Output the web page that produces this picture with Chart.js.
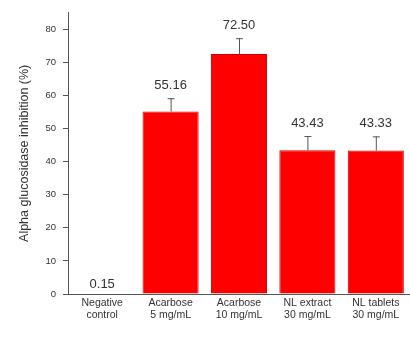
<!DOCTYPE html>
<html><head><meta charset="utf-8">
<script src="https://cdn.jsdelivr.net/npm/chart.js@4/dist/chart.umd.min.js"></script>
<style>html,body{margin:0;padding:0;background:#fff;overflow:hidden}#wrap{width:410px;height:347px;position:relative}</style>
</head><body><div id="wrap"><canvas id="c" width="410" height="347"></canvas></div>
<script>
const categories = [["Negative","control"],["Acarbose","5 mg/mL"],["Acarbose","10 mg/mL"],["NL extract","30 mg/mL"],["NL tablets","30 mg/mL"]];
const values = [0.15, 55.16, 72.50, 43.43, 43.33];
const errors = [0, 4.0, 4.8, 4.3, 4.3];
const yTicks = [0,10,20,30,40,50,60,70,80];
const yTitle = "Alpha glucosidase inhibition (%)";
const FONT = 'Arial, "Liberation Sans", sans-serif';

const errPlugin = {
  id: 'errbars',
  afterDatasetsDraw(chart) {
    const ctx = chart.ctx, y = chart.scales.y;
    const meta = chart.getDatasetMeta(0);
    ctx.save();
    values.forEach((v, i) => {
      const cx = meta.data[i].x;
      const top = y.getPixelForValue(v + errors[i]);
      const base = y.getPixelForValue(v);
      if (errors[i] > 0) {
        ctx.strokeStyle = '#555'; ctx.lineWidth = 1;
        ctx.beginPath();
        ctx.moveTo(cx + 0.5, base); ctx.lineTo(cx + 0.5, top);
        ctx.moveTo(cx - 3, top + 0.5); ctx.lineTo(cx + 4, top + 0.5);
        ctx.stroke();
      }
      ctx.fillStyle = '#333';
      ctx.font = '13px ' + FONT;
      ctx.textAlign = 'center'; ctx.textBaseline = 'alphabetic';
      ctx.fillText(v.toFixed(2), cx, top - (errors[i] > 0 ? 9 : 6));
    });
    ctx.restore();
  }
};

new Chart(document.getElementById('c'), {
  type: 'bar',
  data: { labels: categories, datasets: [{ data: values, backgroundColor: '#ff0000', borderColor: '#d00000', borderWidth: 1, categoryPercentage: 0.82, barPercentage: 1 }] },
  options: {
    responsive: false, animation: false, devicePixelRatio: 1,
    layout: { padding: { top: 12, right: 0, left: 0, bottom: 0 } },
    plugins: { legend: { display: false }, tooltip: { enabled: false } },
    scales: {
      x: {
        grid: { display: false, drawTicks: true, tickLength: 4, color: '#555' },
        border: { color: '#555', width: 1 },
        ticks: { color: '#333', font: { size: 10.5, family: FONT, lineHeight: 1.15 }, maxRotation: 0, padding: -1 },
        afterFit(s) { s.height = 53; }
      },
      y: {
        min: 0, max: 85,
        afterBuildTicks(s) { s.ticks = yTicks.map(v => ({ value: v })); },
        grid: { display: true, drawOnChartArea: false, drawTicks: true, tickLength: 5, color: '#555' },
        border: { color: '#555', width: 1 },
        ticks: { color: '#333', font: { size: 9.5, family: FONT }, padding: 7 },
        title: { display: true, text: yTitle, color: '#333', font: { size: 12.5, family: FONT }, padding: { top: 17, bottom: 4 } },
        afterFit(s) { s.width = 68; }
      }
    }
  },
  plugins: [errPlugin]
});
</script></body></html>
